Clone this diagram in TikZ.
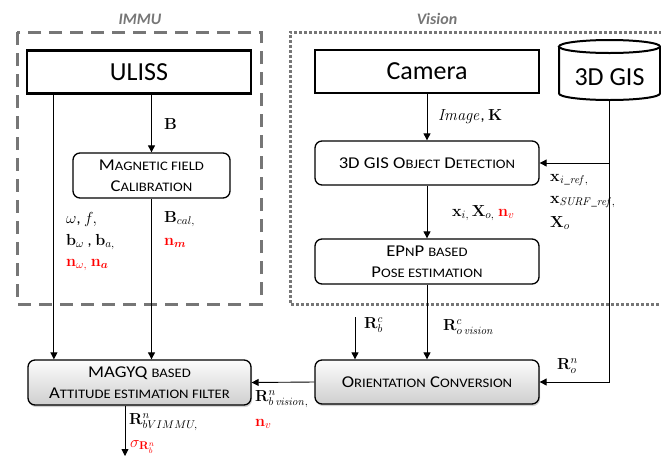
\RequirePackage{fix-cm}
\documentclass[tikz,border=0pt]{standalone}
\usepackage{amsmath,bm}
\usepackage[no-math]{fontspec}
\setmainfont{Carlito}
\newfontfamily\boxfont[FakeStretch=1.13]{Carlito}
\usetikzlibrary{arrows.meta,shadows}
\newcommand\smc[1]{{\fontsize{13}{21}\selectfont #1}}
\definecolor{frame}{RGB}{118,118,118}
\begin{document}
\begin{tikzpicture}[x=1pt,y=-1pt,
  mainbox/.style={draw, line width=2.2pt, minimum width=224pt, minimum height=43pt, inner sep=0pt, font=\fontsize{26}{30}\selectfont},
  rbox/.style={draw, rounded corners=7pt, line width=1.3pt, minimum height=44pt, inner sep=0pt, align=center, font=\boxfont\fontsize{16.5}{21}\selectfont},
  gbox/.style={rbox, top color=gray!2, bottom color=gray!38, drop shadow={shadow xshift=1pt, shadow yshift=-2pt, opacity=0.35}},
  arr/.style={-{Triangle[width=7pt,length=7pt]}, line width=0.9pt},
  lbl/.style={anchor=west, inner sep=0pt, font=\fontsize{16}{18}\selectfont},
  grp/.style={text=frame, font=\fontsize{16}{18}\selectfont\bfseries\itshape}]
\useasboundingbox (0,0) rectangle (661,459);

% groups
\draw[frame, line width=3pt, dash pattern=on 13pt off 8pt] (17,32) rectangle (261,304);
\draw[frame, line width=3pt, dash pattern=on 3pt off 2pt] (662,32) -- (290,32) -- (290,304) -- (662,304);
\node[grp] (immu) at (140,19) {IMMU};
\node[grp] (vision) at (437,19) {Vision};

% boxes
\node[mainbox] (uliss) at (139,72) {ULISS};
\node[mainbox] (camera) at (427,71.5) {Camera};
\node[rbox, minimum width=157pt, minimum height=45pt] (magcal) at (151.5,175.5) {M\smc{AGNETIC FIELD}\\C\smc{ALIBRATION}};
\node[rbox, minimum width=224pt] (det) at (427,163) {3D GIS O\smc{BJECT} D\smc{ETECTION}};
\node[rbox, minimum width=224pt, minimum height=45pt] (epnp) at (427,261.5) {EP\smc{N}P \smc{BASED}\\P\smc{OSE ESTIMATION}};
\node[gbox, minimum width=224pt] (oc) at (427,382) {O\smc{RIENTATION} C\smc{ONVERSION}};
\node[gbox, minimum width=223pt, minimum height=45pt] (magyq) at (139.5,382.5) {MAGYQ \smc{BASED}\\A\smc{TTITUDE ESTIMATION FILTER}};

% cylinder
\node[minimum width=101pt, minimum height=60pt, inner sep=0pt] (gis) at (609.5,70) {};
\draw[line width=2pt] (559,46.5) -- (559,93.5) arc[start angle=180, end angle=360, x radius=50.5pt, y radius=6.5pt] -- (660,46.5);
\draw[line width=2pt] (609.5,46.5) ellipse [x radius=50.5pt, y radius=6.5pt];
\node[font=\fontsize{26}{30}\selectfont] (gistext) at (609.5,77) {3D GIS};

% connectors
\coordinate (l1) at ([xshift=28pt]uliss.south west);
\draw[arr] (l1) -- (l1 |- magyq.north);
\draw[arr] (magcal.north |- uliss.south) -- (magcal.north);
\draw[arr] (magcal.south) -- (magcal.south |- magyq.north);
\draw[arr] (camera.south) -- (det.north);
\draw[arr] (det.south) -- (epnp.north);
\draw[arr] (epnp.south) -- (oc.north);
\coordinate (rcb) at (355,317);
\draw[arr] (rcb) -- (rcb |- oc.north);
\draw[arr] (gis.south) -- (gis.south |- oc.east) -- (oc.east);
\draw[arr] (gis.south |- det.east) -- (det.east);
\draw[arr] (oc.west) -- (magyq.east);
\coordinate (out) at (125,456);
\draw[arr] (magyq.south -| out) -- (out);

% labels
\node[lbl] (lB) at (164,124) {$\mathbf{B}$};
\node[lbl] (l1a) at (66,219) {$\omega$, $f,$};
\node[lbl] (l1b) at (66,242) {$\mathbf{b}_{\omega}$ , $\mathbf{b}_{a,}$};
\node[lbl, text=red] (l1c) at (66,265) {$\mathbf{n}_{\omega,}$ $\mathbf{n}_{\bm{a}}$};
\node[lbl] (l2a) at (164,219) {$\mathbf{B}_{cal,}$};
\node[lbl, text=red] (l2b) at (164,243) {$\mathbf{n}_{\bm{m}}$};
\node[lbl] (limg) at (438,117) {$\mathit{Image}$, $\mathbf{K}$};
\node[lbl] (lxi) at (452,213) {$\mathbf{x}_{i,}\,\mathbf{X}_{o,}$ \textcolor{red}{$\mathbf{n}_{v}$}};
\node[lbl] (lr1) at (550,180) {$\mathbf{x}_{\mathit{i\_ref},}$};
\node[lbl] (lr2) at (550,202) {$\mathbf{x}_{\mathit{SURF\_ref},}$};
\node[lbl] (lr3) at (550,223) {$\mathbf{X}_{o}$};
\node[lbl] (lrcb) at (364,325) {$\mathbf{R}_b^c$};
\node[lbl] (lrco) at (443,327) {$\mathbf{R}^c_{o\,\mathit{vision}}$};
\node[lbl] (lrno) at (557,366) {$\mathbf{R}^n_{o}$};
\node[lbl] (lrbv) at (255,399) {$\mathbf{R}^n_{b\,\mathit{vision},}$};
\node[lbl, text=red] (lnv) at (255,424) {$\mathbf{n}_{v}$};
\node[lbl] (lrbi) at (129,422) {$\mathbf{R}^n_{bVIMMU,}$};
\node[lbl, text=red] (lsig) at (130,447) {$\sigma_{\mathbf{R}^n_b}$};
\end{tikzpicture}
\end{document}
